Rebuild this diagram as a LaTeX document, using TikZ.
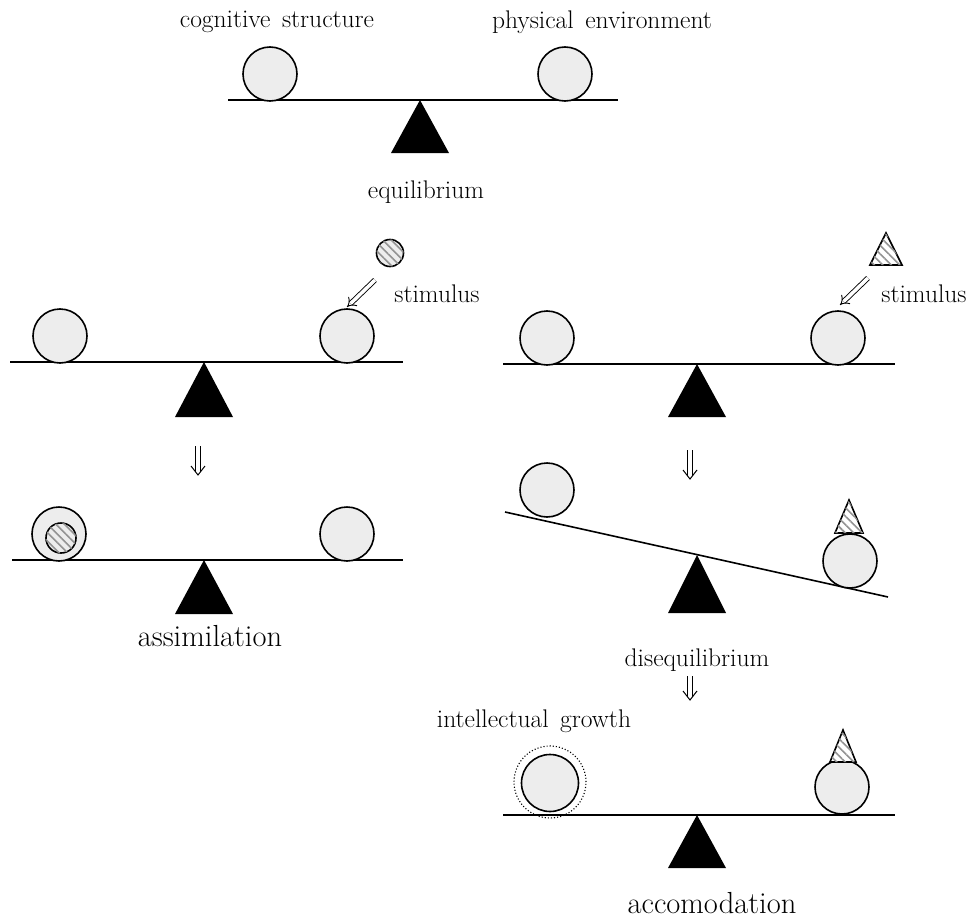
\documentclass[tikz,border=0pt]{standalone}
\usetikzlibrary{arrows.meta,patterns.meta}
\definecolor{ballgray}{gray}{0.93}
\tikzset{
  ball/.style={circle, draw, line width=1.6pt, fill=ballgray, minimum size=54pt, inner sep=0pt},
  beam/.style={line width=1.6pt},
  fulcrum/.style={fill=black},
  lbl/.style={font=\fontsize{25.5}{28}\selectfont, inner sep=0pt},
  big/.style={font=\fontsize{30.5}{34}\selectfont, inner sep=0pt},
  hollow/.style={double, double distance=3.5pt, line width=0.9pt, -{Implies[length=7pt]}},
  shaft/.style={line width=1pt},
  hatch/.style={postaction={pattern={Lines[angle=-45,distance=6pt,line width=1.6pt]}, pattern color=gray!85}},
  smallball/.style={circle, draw, line width=1.6pt, fill=ballgray, inner sep=0pt, hatch},
  stimtri/.style={line width=1.6pt, fill=white, hatch}
}
\begin{document}
\begin{tikzpicture}[x=1pt,y=-1pt]
\useasboundingbox (0,0) rectangle (970,918);

% ---- top: equilibrium
\draw[beam] (228,100) -- (618,100);
\fill[fulcrum] (420,100) -- (449,153) -- (391,153) -- cycle;
\node[ball] (t1) at (270,74) {};
\node[ball] (t2) at (565,74) {};
\node[lbl] (tl1) at (277,22) {cognitive\hspace{0.15em} structure};
\node[lbl] (tl2) at (602,22) {physical\hspace{0.15em} environment};
\node[lbl] (tl3) at (426,192) {equilibrium};

% ---- middle left
\draw[beam] (10,362) -- (403,362);
\fill[fulcrum] (204,362) -- (233,417) -- (175,417) -- cycle;
\node[ball] (a1) at (60,336) {};
\node[ball] (a2) at (347,336) {};
\node[smallball, minimum size=27pt] (s1) at (390,253) {};
\coordinate (s1t) at (375,280);
\coordinate (s1h) at (347,307);
\draw[hollow] (s1t) -- (s1h);
\node[lbl] (sl1) at (437,294) {stimulus};

% ---- middle right
\draw[beam] (503,364) -- (895,364);
\fill[fulcrum] (697,364) -- (726,417) -- (668,417) -- cycle;
\node[ball] (b1) at (547,338) {};
\node[ball] (b2) at (838,338) {};
\draw[stimtri] (886,233) -- (902,265) -- (870,265) -- cycle;
\coordinate (s2t) at (868,278);
\coordinate (s2h) at (840,305);
\draw[hollow] (s2t) -- (s2h);
\node[lbl] (sl2) at (924,294) {stimulus};

% ---- down arrows (hollow double arrows drawn by hand)
\coordinate (d1t) at (198,446);
\coordinate (d1h) at (198,475);
\draw[shaft] ([xshift=-2.5pt]d1t) -- ([xshift=-2.5pt,yshift=3pt]d1h)
             ([xshift=2.5pt]d1t) -- ([xshift=2.5pt,yshift=3pt]d1h);
\draw[shaft] ([xshift=-7pt,yshift=9pt]d1h) -- (d1h) -- ([xshift=7pt,yshift=9pt]d1h);
\coordinate (d2t) at (690,450);
\coordinate (d2h) at (690,479);
\draw[shaft] ([xshift=-2.5pt]d2t) -- ([xshift=-2.5pt,yshift=3pt]d2h)
             ([xshift=2.5pt]d2t) -- ([xshift=2.5pt,yshift=3pt]d2h);
\draw[shaft] ([xshift=-7pt,yshift=9pt]d2h) -- (d2h) -- ([xshift=7pt,yshift=9pt]d2h);
\coordinate (d3t) at (690,676);
\coordinate (d3h) at (690,700);
\draw[shaft] ([xshift=-2.5pt]d3t) -- ([xshift=-2.5pt,yshift=3pt]d3h)
             ([xshift=2.5pt]d3t) -- ([xshift=2.5pt,yshift=3pt]d3h);
\draw[shaft] ([xshift=-7pt,yshift=9pt]d3h) -- (d3h) -- ([xshift=7pt,yshift=9pt]d3h);

% ---- assimilation
\draw[beam] (12,560) -- (403,560);
\fill[fulcrum] (204,560) -- (233,614) -- (175,614) -- cycle;
\node[ball] (c1) at (59,534) {};
\node[smallball, minimum size=30pt] (c1in) at (61,538) {};
\node[ball] (c2) at (347,534) {};
\node[big] (al) at (210,636) {assimilation};

% ---- disequilibrium
\draw[beam] (505,512) -- (888,597);
\fill[fulcrum] (697,555) -- (726,613) -- (668,613) -- cycle;
\node[ball] (e1) at (547,490) {};
\node[ball] (e2) at (850,561) {};
\draw[stimtri] (849,500) -- (863,533) -- (835,533) -- cycle;
\node[lbl] (el) at (697,660) {disequilibrium};

% ---- accommodation
\node[lbl] (gl) at (534,721) {intellectual\hspace{0.15em} growth};
\draw[beam] (503,815) -- (895,815);
\fill[fulcrum] (697,815) -- (726,868) -- (668,868) -- cycle;
\node[ball, minimum size=57pt] (f1) at (550,783) {};
\node[circle, draw, dotted, line width=1.1pt, minimum size=72pt, inner sep=0pt] (f1d) at (550,782) {};
\node[ball] (f2) at (842,787) {};
\draw[stimtri] (843,730) -- (856,762) -- (830,762) -- cycle;
\node[big] (fl) at (712,903) {accomodation};
\end{tikzpicture}
\end{document}
